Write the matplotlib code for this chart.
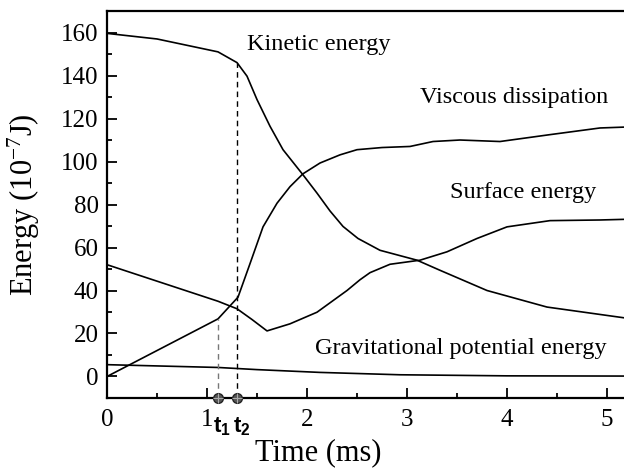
import matplotlib
matplotlib.use("Agg")
import matplotlib.pyplot as plt
import numpy as np
from matplotlib.ticker import MultipleLocator
import matplotlib.transforms as mtransforms

plt.rcParams['font.family'] = ['Liberation Serif', 'DejaVu Serif']
plt.rcParams['mathtext.fontset'] = 'custom'
plt.rcParams['mathtext.rm'] = 'Liberation Serif'
plt.rcParams['mathtext.it'] = 'Liberation Serif:italic'
plt.rcParams['mathtext.bf'] = 'Liberation Sans:bold'

# Data (time in ms, energy in 1e-7 J)
kin_t = [0, 0.5, 1.11, 1.30, 1.40, 1.50, 1.63, 1.76, 1.96, 2.10, 2.23, 2.36, 2.51, 2.73, 3.10, 3.33, 3.80, 4.40, 5.17]
kin_e = [159.6, 157, 151, 146, 139.7, 128.8, 116.4, 105.5, 93.8, 85.3, 77.0, 69.8, 64.2, 58.7, 54.1, 49.4, 40, 32.3, 27.3]

visc_t = [0, 1.11, 1.31, 1.43, 1.56, 1.70, 1.83, 1.96, 2.13, 2.33, 2.50, 2.75, 3.03, 3.26, 3.53, 3.93, 4.43, 4.93, 5.17]
visc_e = [0, 26.8, 36.9, 52.5, 69.6, 80.6, 88.3, 94.3, 99.3, 103.1, 105.5, 106.5, 107, 109.3, 110, 109.3, 112.5, 115.6, 116]

surf_t = [0, 1.11, 1.30, 1.45, 1.60, 1.83, 2.10, 2.40, 2.53, 2.63, 2.83, 3.13, 3.40, 3.70, 4.00, 4.43, 4.93, 5.17]
surf_e = [52, 35, 31.5, 26.5, 21.2, 24.5, 29.9, 40, 45, 48.3, 52.2, 54.1, 58, 64.2, 69.6, 72.5, 72.8, 73.1]

grav_t = [0, 1.11, 1.50, 2.13, 2.93, 4.00, 5.17]
grav_e = [5.5, 4.2, 3.2, 1.9, 0.8, 0.3, 0.2]

t1, t2 = 1.11, 1.30
xticks = [0, 1, 2, 3, 4, 5]
yticks = [0, 20, 40, 60, 80, 100, 120, 140, 160]

labels = ["Kinetic energy", "Viscous dissipation", "Surface energy", "Gravitational potential energy"]
label_pos = [(1.40, 154.5), (3.13, 129.8), (3.43, 85.4), (2.08, 13.0)]

fig = plt.figure(figsize=(6.24, 4.69), dpi=100)
ax = fig.add_axes([0.1715, 0.1514, 0.8285, 0.8251])

lw = 1.2
for tt, ee in [(kin_t, kin_e), (visc_t, visc_e), (surf_t, surf_e), (grav_t, grav_e)]:
    ax.plot(tt, ee, color='black', lw=lw)

ymin, ymax = -10, 170
# dashed guide lines
v1 = np.interp(t1, visc_t, visc_e)
k2 = np.interp(t2, kin_t, kin_e)
ax.plot([t1, t1], [ymin, v1], ls=(0, (4, 3)), color='#777777', lw=1.0)
ax.plot([t2, t2], [ymin, k2], ls=(0, (4, 3)), color='black', lw=1.0)

# markers on axis
for tt in (t1, t2):
    ax.plot([tt], [ymin], marker='o', ms=7, color='#555555', mec='#222222', clip_on=False, zorder=5)
    ax.plot([tt], [ymin], marker='+', ms=7, color='#aaaaaa', mew=0.8, clip_on=False, zorder=6)

ax.set_xlim(0, 5.17)
ax.set_ylim(ymin, ymax)

ax.set_xticks(xticks)
ax.set_yticks(yticks)
ax.xaxis.set_minor_locator(MultipleLocator(0.5))
ax.yaxis.set_minor_locator(MultipleLocator(10))
ax.tick_params(which='major', direction='in', length=7, width=1.3, labelsize=18, pad=8)
ax.tick_params(which='minor', direction='in', length=3.6, width=1.3)
ax.tick_params(axis='y', pad=6)

for s in ['left', 'bottom', 'top']:
    ax.spines[s].set_linewidth(1.6)
ax.spines['right'].set_visible(False)

trans = mtransforms.blended_transform_factory(ax.transData, ax.transAxes)
ax.text(1.055, -0.045, r'$\mathbf{t}_{\mathbf{1}}$', transform=trans, ha='left', va='top', fontsize=16)
ax.text(1.255, -0.045, r'$\mathbf{t}_{\mathbf{2}}$', transform=trans, ha='left', va='top', fontsize=16)

for lab, (x, y) in zip(labels, label_pos):
    ax.text(x, y, lab, fontsize=17.5, ha='left', va='center')

ax.set_xlabel('Time (ms)', fontsize=22)
ax.xaxis.set_label_coords((318 - 107) / (624 - 107), -0.105)
ax.set_ylabel(r'Energy (10$^{-7}$J)', fontsize=22)
ax.yaxis.set_label_coords(-0.125, 0.5)

fig.savefig('out.png', dpi=100)
